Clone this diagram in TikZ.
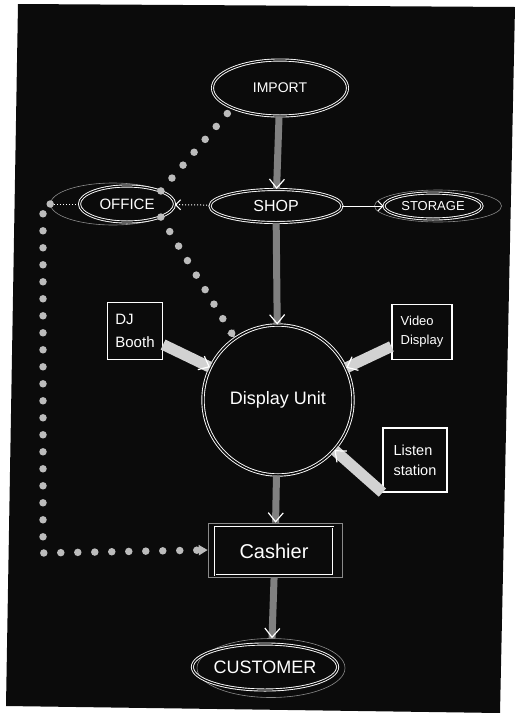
\documentclass[tikz,border=0pt]{standalone}
\usepackage{fontspec}
\setmainfont{Liberation Sans}
\usetikzlibrary{shapes.geometric,arrows.meta,decorations.markings}

\definecolor{board}{HTML}{0B0B0B}
\definecolor{bar}{HTML}{808080}
\definecolor{pale}{HTML}{D2D2D2}
\definecolor{dotcol}{HTML}{BCBCBC}
\definecolor{faint}{HTML}{8A8A8A}

\begin{document}
\begin{tikzpicture}[x=1pt,y=-1pt]
        \tikzstyle{every node}=[text=white, inner sep=0pt]
        \tikzstyle{oval}=[ellipse, draw=white, double=board, double distance=1.2pt, line width=0.9pt]
        \tikzstyle{halo}=[ellipse, draw=faint, line width=0.6pt]
        \tikzstyle{card}=[draw=white, line width=1.2pt, align=left]
        \tikzstyle{barb}=[postaction={decorate}, decoration={markings,
            mark=at position 1 with {\arrow[white, line width=1.2pt]{Straight Barb[length=9pt, width=15pt]}}}]
        \tikzstyle{flow}=[draw=bar, line width=7pt, barb]
        \tikzstyle{feed}=[draw=pale, line width=11pt, barb]
        \tikzstyle{dots}=[draw=dotcol, line width=7.5pt, line cap=round, dash pattern=on 0pt off 17pt]
        \tikzstyle{finedots}=[draw=white, line width=1pt, dotted]

        % board
        \fill[white] (0,0) rectangle (515,713);
        \fill[board] (18,4) -- (515,7) -- (500,713) -- (6,706) -- cycle;
        \useasboundingbox (0,0) rectangle (515,713);

        % nodes
        \node (import) [oval, minimum width=135pt, minimum height=56pt, font=\fontsize{14}{16}\selectfont] at (280,88) {IMPORT};
        \node (officehalo) [halo, minimum width=125pt, minimum height=42pt] at (113,204) {};
        \node (office) [oval, minimum width=95pt, minimum height=36pt, font=\fontsize{15}{17}\selectfont] at (127,204) {OFFICE};
        \node (shop) [oval, minimum width=132pt, minimum height=33pt, font=\fontsize{16}{18}\selectfont] at (276,206) {SHOP};
        \node (storagehalo) [halo, minimum width=127pt, minimum height=32pt] at (438,206) {};
        \node (storage) [oval, minimum width=98pt, minimum height=26pt, font=\fontsize{13}{15}\selectfont] at (433,206) {STORAGE};
        \node (disp) [circle, draw=white, double=board, double distance=1.5pt, line width=0.9pt, minimum size=150pt, font=\fontsize{18}{20}\selectfont] at (278,400) {Display Unit};
        \node (dj) [card, minimum width=55pt, minimum height=57pt, font=\fontsize{15}{23}\selectfont] at (135,331) {DJ\\Booth};
        \node (video) [card, minimum width=60pt, minimum height=55pt, font=\fontsize{13}{19}\selectfont] at (422,332) {Video\\Display};
        \node (listen) [card, minimum width=64pt, minimum height=64pt, font=\fontsize{14.5}{20}\selectfont] at (415,460) {Listen\\station};
        \node (cashierframe) [draw=faint, line width=0.6pt, minimum width=134pt, minimum height=54pt] at (275,550) {};
        \node (cashier) [draw=white, double=board, double distance=1pt, line width=0.8pt, minimum width=118pt, minimum height=48pt, font=\fontsize{20}{22}\selectfont] at (274,551) {Cashier};
        \node (customerhalo) [halo, minimum width=148pt, minimum height=59pt] at (271,668) {};
        \node (customer) [oval, minimum width=130pt, minimum height=46pt, font=\fontsize{18}{20}\selectfont] at (265,667) {CUSTOMER};
        \coordinate (bend) at (43,553);

        % main flow
        \draw[flow] (import) -- (shop);
        \draw[flow] (shop) -- (disp);
        \draw[flow] (disp) -- (cashierframe);
        \draw[flow] (cashierframe) -- (customerhalo);

        % feeds into the display unit
        \draw[feed] (dj) -- (disp);
        \draw[feed] (video) -- (disp);
        \draw[feed] (listen.south west) -- (disp);

        % side links
        \draw[white, line width=1pt, -{Straight Barb[length=5pt, width=10pt]}] (shop) -- (storage);
        \draw[finedots, {Straight Barb[length=5pt, width=10pt]}-] (office) -- (shop);
        \draw[finedots] (office.west) -- (officehalo.west);
        \draw[dots] (office.north east) -- (import.south west);
        \draw[dots, -{Stealth[length=8pt, width=8pt]}] (office.south east) -- (disp.125);
        \draw[dots, -{Triangle[length=9pt, width=10pt]}] (officehalo.west) -| (bend) -- (cashierframe.west);

    \end{tikzpicture}
\end{document}
